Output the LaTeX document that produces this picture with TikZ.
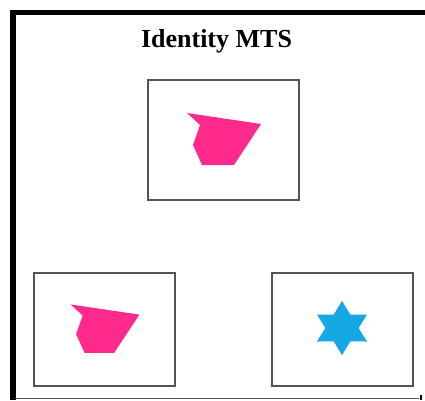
\documentclass[tikz,border=0pt]{standalone}
\usepackage{fontspec}
\setmainfont{Liberation Serif}
\definecolor{shardpink}{RGB}{255, 42, 140}
\definecolor{starblue}{RGB}{22, 168, 228}
\definecolor{boxgray}{RGB}{85, 85, 85}
\usepackage{tikz}
\usetikzlibrary{calc}

\begin{document}
\begin{tikzpicture}[x=1pt, y=-1pt,
    panel/.style={draw=boxgray, line width=1.5pt, inner sep=0pt,
      minimum width=141pt, minimum height=113pt},
    shard/.pic={
      \fill[shardpink] (-36.5,-27) -- (37.5,-16) -- (10.5,25) -- (-21.5,25)
        -- (-30.5,5) -- (-23.5,-15) -- cycle;
    },
    hexstar/.pic={
      \fill[starblue, xscale=1.07] (90:27)
        \foreach \a in {120,150,...,420} {-- (\a:{mod(\a,60)==30 ? 27 : 15.5})} -- cycle;
    }]
    \useasboundingbox (0,0) rectangle (425,400);

    % outer frame
    \draw[line width=5.5pt] (13,400) -- (13,12.5) -- (425,12.5);
    \draw[boxgray, line width=1pt] (15,398) -- (419,398);
    \draw[line width=2pt] (421,395) -- (421,400);

    \node[font=\bfseries\fontsize{26}{30}\selectfont, anchor=base] (title)
      at (216.5,47) {Identity MTS};

    % source and the two candidates
    \node[panel, minimum width=151pt, minimum height=120pt] (source) at (223.5,140) {};
    \node[panel] (match) at (104.5,329.5) {};
    \node[panel] (other) at (342.5,329.5) {};

    \path (source.center) pic {shard};
    \path (match.center) pic[scale=0.93] {shard};
    \path ($(other.center)+(-0.5,-1.5)$) pic {hexstar};
\end{tikzpicture}
\end{document}
